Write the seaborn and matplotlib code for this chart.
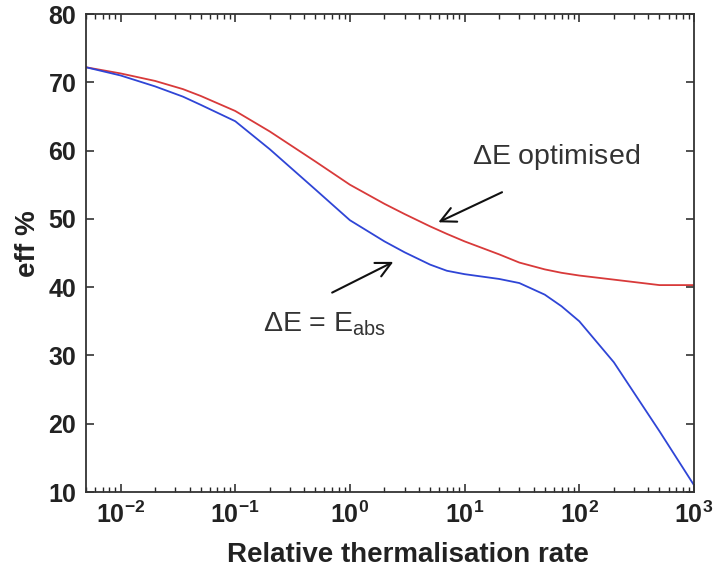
import numpy as np
import pandas as pd
import matplotlib
matplotlib.use("Agg")
import matplotlib.pyplot as plt
import seaborn as sns
from matplotlib.ticker import LogLocator, FixedLocator, NullFormatter

# ---- data ----
rate = [0.005, 0.01, 0.02, 0.035, 0.05, 0.1, 0.2, 0.5, 1, 2, 3, 5, 7, 10,
        20, 30, 50, 70, 100, 200, 500, 1000]
eff_optimised = [72.2, 71.3, 70.2, 69.0, 68.0, 65.8, 62.8, 58.4, 55.0, 52.2, 50.7,
                 48.9, 47.8, 46.7, 44.8, 43.6, 42.6, 42.1, 41.7, 41.1, 40.3, 40.3]
eff_eabs = [72.2, 71.0, 69.4, 67.9, 66.7, 64.3, 60.2, 54.3, 49.8, 46.7, 45.1,
            43.3, 42.4, 41.9, 41.2, 40.6, 38.9, 37.2, 35.0, 29.0, 18.9, 11.0]
yticks = [10, 20, 30, 40, 50, 60, 70, 80]
xticks = [1e-2, 1e-1, 1e0, 1e1, 1e2, 1e3]
xticklabels = [r"$\mathbf{10^{-2}}$", r"$\mathbf{10^{-1}}$", r"$\mathbf{10^{0}}$",
               r"$\mathbf{10^{1}}$", r"$\mathbf{10^{2}}$", r"$\mathbf{10^{3}}$"]

df = pd.DataFrame({
    "rate": rate * 2,
    "eff": eff_optimised + eff_eabs,
    "case": ["opt"] * len(rate) + ["abs"] * len(rate),
})

sns.set_theme(style="white")
plt.rcParams["font.family"] = ["Liberation Sans", "DejaVu Sans"]
plt.rcParams["mathtext.fontset"] = "custom"
plt.rcParams["mathtext.rm"] = "Liberation Sans"
plt.rcParams["mathtext.bf"] = "Liberation Sans:bold"
plt.rcParams["mathtext.it"] = "Liberation Sans:italic"

fig = plt.figure(figsize=(7.13, 5.67), dpi=100)
ax = fig.add_axes([86 / 713, 1 - 492 / 567, (694 - 86) / 713, (492 - 14) / 567])

sns.lineplot(data=df, x="rate", y="eff", hue="case",
             palette={"opt": "#d83a3a", "abs": "#2f45d6"},
             linewidth=1.3, legend=False, ax=ax, sort=False)

ax.set_xscale("log")
ax.set_xlim(5e-3, 1e3)
ax.set_ylim(10, 80)

ax.xaxis.set_major_locator(FixedLocator(xticks))
ax.set_xticklabels(xticklabels)
ax.xaxis.set_minor_locator(LogLocator(base=10, subs=np.arange(2, 10), numticks=20))
ax.xaxis.set_minor_formatter(NullFormatter())
ax.set_yticks(yticks)
ax.set_yticklabels([str(v) for v in yticks], fontweight="bold")

ax.tick_params(axis="both", which="major", direction="in", length=6, width=1.1,
               top=True, right=True, bottom=True, left=True,
               labelsize=18, colors="#222222", pad=7)
ax.tick_params(axis="x", which="minor", direction="in", length=3.5, width=1.0,
               top=True, bottom=True)
for lbl in ax.get_xticklabels():
    lbl.set_fontsize(18)

for s in ax.spines.values():
    s.set_visible(True)
    s.set_color("#333333")
    s.set_linewidth(1.3)

ax.set_xlabel("Relative thermalisation rate", fontsize=20, fontweight="bold",
              color="#222222", labelpad=8)
ax.xaxis.set_label_coords(0.53, -0.105)
ax.set_ylabel("eff %", fontsize=20, fontweight="bold", color="#222222")
ax.yaxis.set_label_coords(-0.074, 0.52)

ax.text(11.6, 59.0, r"$\Delta$E optimised", fontsize=20.5, color="#333333",
        ha="left", va="center")
ax.text(0.176, 34.5, r"$\Delta$E = E$_{\rm abs}$", fontsize=20.5, color="#333333",
        ha="left", va="center")

arrow = dict(arrowstyle="->,head_length=0.9,head_width=0.45", color="#111111",
             lw=1.5, shrinkA=0, shrinkB=0)
ax.annotate("", xy=(5.9, 49.5), xytext=(21.2, 53.9), arrowprops=arrow)
ax.annotate("", xy=(2.39, 43.7), xytext=(0.70, 39.2), arrowprops=arrow)

fig.savefig("out.png", dpi=100)
